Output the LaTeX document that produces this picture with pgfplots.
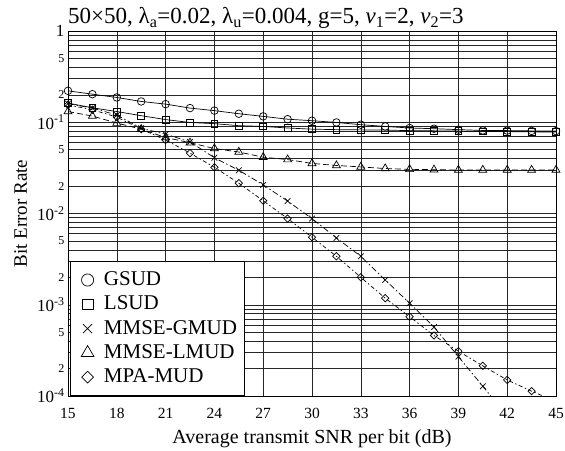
\documentclass[border=0pt]{standalone}
\usepackage{fontspec}
\setmainfont{Liberation Serif}
\usepackage{pgfplots}
\pgfplotsset{compat=1.18}

\pgfplotstableread{
x     gsud    lsud    gmud     lmud    mpa
15    0.221   0.162   0.160    0.131   0.155
16.5  0.203   0.144   0.143    0.117   0.137
18    0.187   0.131   0.120    0.098   0.114
19.5  0.169   0.118   0.086    0.084   0.084
21    0.158   0.107   0.074    0.068   0.064
22.5  0.143   0.0994  0.061    0.0597  0.0459
24    0.134   0.0965  0.0408   0.0515  0.0321
25.5  0.124   0.0917  0.0298   0.0472  0.0215
27    0.116   0.090   0.0206   0.0414  0.0138
28.5  0.108   0.0865  0.0137   0.039   0.0088
30    0.104   0.084   0.0088   0.0354  0.0055
31.5  0.0995  0.083   0.0054   0.0336  0.0034
33    0.094   0.0825  0.0034   0.0324  0.0020
34.5  0.090   0.082   0.00187  0.0311  0.00118
36    0.0865  0.081   0.00104  0.0305  0.00074
37.5  0.085   0.0805  0.00057  0.0302  0.00046
39    0.083   0.080   0.00027  0.030   0.00031
40.5  0.0813  0.0795  0.000128 0.030   0.000214
42    0.081   0.079   0.00006  0.030   0.00015
43.5  0.0804  0.0785  nan      0.030   0.000113
45    0.080   0.078   nan      0.030   0.000087
}\bertable

\begin{document}
\begin{tikzpicture}
\begin{axis}[
  name=ax,
  at={(0pt,0pt)}, anchor=south west,
  scale only axis, width=488pt, height=365pt,
  ymode=log,
  xmin=15, xmax=45, ymin=1e-4, ymax=1,
  xtick={15,18,...,45},
  ytick={1e-4,1e-3,1e-2,1e-1,1},
  yticklabels={10\textsuperscript{-4},10\textsuperscript{-3},10\textsuperscript{-2},10\textsuperscript{-1},1\hspace{16pt}},
  minor ytick={2e-4,3e-4,4e-4,5e-4,6e-4,7e-4,8e-4,9e-4,
               2e-3,3e-3,4e-3,5e-3,6e-3,7e-3,8e-3,9e-3,
               2e-2,3e-2,4e-2,5e-2,6e-2,7e-2,8e-2,9e-2,
               2e-1,3e-1,4e-1,5e-1,6e-1,7e-1,8e-1,9e-1},
  extra y ticks={2e-4,5e-4,2e-3,5e-3,2e-2,5e-2,2e-1,5e-1},
  extra y tick labels={2\hspace{15pt},5\hspace{15pt},2\hspace{15pt},5\hspace{15pt},2\hspace{15pt},5\hspace{15pt},2\hspace{15pt},5\hspace{15pt}},
  extra y tick style={grid=none, yticklabel style={font=\fontsize{12}{12}\selectfont}},
  xmajorgrids, ymajorgrids, yminorgrids,
  grid style={black!85, line width=0.5pt},
  minor grid style={black!85, line width=0.5pt},
  major tick length=0pt, minor tick length=0pt,
  axis line style={black, line width=0.6pt},
  /pgf/number format/assume math mode=true,
  xticklabel style={font=\fontsize{15.5}{16}\selectfont, anchor=base, yshift=-22pt},
  yticklabel style={font=\fontsize{17}{17}\selectfont},
  xlabel={Average transmit SNR per bit (dB)},
  xlabel style={font=\fontsize{20}{20}\selectfont, at={(axis description cs:0.5,0)}, anchor=base, yshift=-47pt},
  ylabel={Bit Error Rate},
  ylabel style={font=\fontsize{19}{19}\selectfont, at={(axis description cs:0,0.5)}, anchor=base, yshift=41pt},
  legend style={at={(axis description cs:0.004,0)}, anchor=south west,
    draw=black, fill=white, line width=0.6pt,
    font=\fontsize{21}{24}\selectfont, inner xsep=7pt, inner ysep=9pt,
    row sep=5.3pt,
    nodes={inner xsep=0pt, inner ysep=0pt, text height=15pt, text depth=4pt},
    cells={anchor=west}},
  legend image code/.code={
    \draw[#1, every mark/.append style={scale=1.6}] plot[only marks] coordinates {(10pt,0pt)};
    \path (0pt,0pt) (26pt,0pt);
  },
  every axis plot/.append style={black, line width=0.7pt},
]
\addplot[solid, mark=o, mark size=3.8pt, mark options={solid}] table[x=x,y=gsud] {\bertable};
\addlegendentry{GSUD}
\addplot[solid, mark=square, mark size=3.4pt, mark options={solid}] table[x=x,y=lsud] {\bertable};
\addlegendentry{LSUD}
\addplot[dash pattern=on 6pt off 2.5pt on 1.5pt off 2.5pt, mark=x, mark size=4pt, mark options={solid}] table[x=x,y=gmud] {\bertable};
\addlegendentry{MMSE-GMUD}
\addplot[dash pattern=on 6pt off 3pt, mark=triangle, mark size=4.6pt, mark options={solid}] table[x=x,y=lmud] {\bertable};
\addlegendentry{MMSE-LMUD}
\addplot[dash pattern=on 4pt off 2.5pt on 1.5pt off 2.5pt, mark=square, mark size=2.6pt, mark options={solid, rotate=45}] table[x=x,y=mpa] {\bertable};
\addlegendentry{MPA-MUD}
\end{axis}
\node[anchor=base west, font=\fontsize{23}{23}\selectfont, inner sep=0pt] at ([xshift=0pt, yshift=7.5pt]ax.north west)
  {50×50, λ\textsubscript{a}=0.02, λ\textsubscript{u}=0.004, g=5, \textit{ν}\textsubscript{1}=2, \textit{ν}\textsubscript{2}=3};
\pgfresetboundingbox
\path (-68pt,-54pt) rectangle (497pt,396pt);
\end{tikzpicture}
\end{document}
